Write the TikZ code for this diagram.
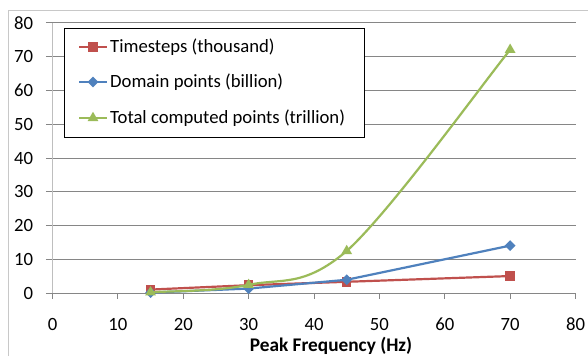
\documentclass[tikz,border=0pt]{standalone}
\usepackage{fontspec}
\setmainfont{Carlito}
\usetikzlibrary{shapes.geometric}
\definecolor{serred}{HTML}{C0504D}
\definecolor{serblue}{HTML}{4F81BD}
\definecolor{sergreen}{HTML}{9BBB59}
\definecolor{gridc}{RGB}{134,134,134}
\definecolor{axisc}{RGB}{190,190,190}
\definecolor{framec}{RGB}{200,200,200}
\tikzset{
  gridline/.style={draw=gridc, line width=0.9pt},
  axisline/.style={draw=axisc, line width=1.6pt},
  ticklab/.style={font=\fontsize{18.7}{22}\selectfont, inner sep=0pt},
  legtext/.style={font=\fontsize{18.7}{22}\selectfont, inner sep=0pt, anchor=west},
  serline/.style={line width=2.2pt, line join=round},
  sqmark/.style={rectangle, fill=serred, minimum size=9.5pt, inner sep=0pt},
  dimark/.style={diamond, fill=serblue, minimum width=11pt, minimum height=11pt, inner sep=0pt},
  trimark/.style={regular polygon, regular polygon sides=3, fill=sergreen, minimum size=12.5pt, inner sep=0pt},
}
\begin{document}
\begin{tikzpicture}[x=1pt, y=-1pt]
\useasboundingbox (0,0) rectangle (588,356);
\fill[white] (0,0) rectangle (588,356);
% outer frame
\coordinate (fTL) at (8,10);
\coordinate (fTR) at (588,10);
\coordinate (fBL) at (8,356);
\draw[draw=framec, line width=1pt] (fBL) -- (fTL) -- (fTR);

\begin{scope}[shift={(52.5,293.3)}, x=6.5375pt, y=3.3825pt]
  % grid lines and y labels
  \foreach \v in {10,20,...,80} {
    \draw[gridline] (-1,\v) -- (80,\v);
  }
  \foreach \v in {0,10,...,80} {
    \node[ticklab, anchor=east] (yl\v) at (-2.93,\v) {\v};
  }
  % y axis
  \draw[axisline] (0,0) -- (0,80);
  % x axis
  \draw[gridline] (-1,0) -- (80,0);
  \foreach \u in {0,10,...,80} {
    \draw[gridline] (\u,0) -- (\u,-1.6);
    \node[ticklab, anchor=center] (xl\u) at (\u,-9.1) {\u};
  }
  \node[font=\fontsize{19.3}{22}\selectfont\bfseries, inner sep=0pt] (xtitle) at (42.6,-15.4) {Peak Frequency (Hz)};

  % data points
  \coordinate (r1) at (15,1.1);
  \coordinate (r2) at (30,2.4);
  \coordinate (r3) at (45,3.4);
  \coordinate (r4) at (70,5.1);
  \coordinate (b1) at (15,0.2);
  \coordinate (b2) at (30,1.4);
  \coordinate (b3) at (45,4.0);
  \coordinate (b4) at (70,14.1);
  \coordinate (g1) at (15,0.3);
  \coordinate (g2) at (30,2.5);
  \coordinate (g3) at (45,12.5);
  \coordinate (g4) at (70,72);

  % red series
  \draw[serline, serred] (r1) -- (r2) -- (r3) -- (r4);
  \foreach \p in {r1,r2,r3,r4} \node[sqmark] (m\p) at (\p) {};
  % blue series
  \draw[serline, serblue] (b1) -- (b2) -- (b3) -- (b4);
  \foreach \p in {b1,b2,b3,b4} \node[dimark] (m\p) at (\p) {};
  % green series (smoothed)
  \draw[serline, sergreen] (g1) .. controls (17.5,0.667) and (25,0.467) .. (g2)
    .. controls (35,4.533) and (38.333,1.583) .. (g3)
    .. controls (51.667,24.083) and (65.833,62.083) .. (g4);
  \foreach \p in {g1,g2,g3,g4} \node[trimark] (m\p) at (\p) {};
\end{scope}

% legend
\node[draw=black, fill=white, line width=0.8pt, minimum width=300pt, minimum height=109pt, anchor=north west, inner sep=0pt] (legend) at (64,28) {};
\coordinate (la1) at (79,47);  \coordinate (lb1) at (107,47);
\coordinate (la2) at (79,82);  \coordinate (lb2) at (107,82);
\coordinate (la3) at (79,118); \coordinate (lb3) at (107,118);
\draw[serline, serred] (la1) -- (lb1);
\node[sqmark] (lm1) at (93,47) {};
\draw[serline, serblue] (la2) -- (lb2);
\node[dimark] (lm2) at (93,82) {};
\draw[serline, sergreen] (la3) -- (lb3);
\node[trimark] (lm3) at (93,118) {};
\node[legtext] (lt1) at (110,47) {Timesteps (thousand)};
\node[legtext] (lt2) at (110,82) {Domain points (billion)};
\node[legtext] (lt3) at (110,118) {Total computed points (trillion)};
\end{tikzpicture}
\end{document}
